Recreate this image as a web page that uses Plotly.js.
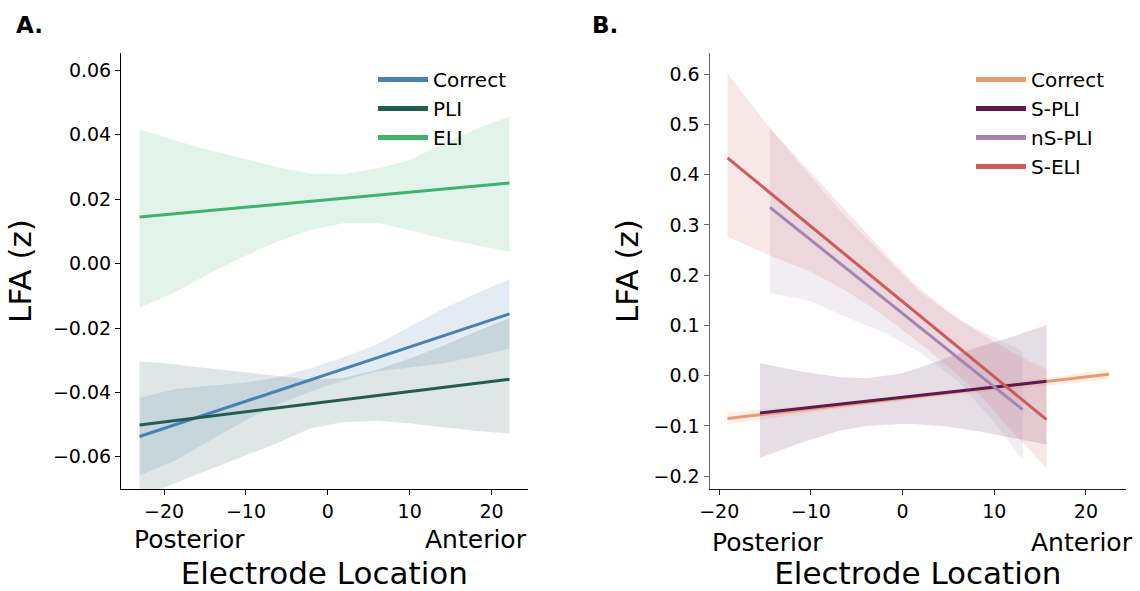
<!DOCTYPE html>
<html><head><meta charset="utf-8">
<script src="https://cdn.plot.ly/plotly-3.0.1.min.js"></script>
<style>html,body{margin:0;padding:0;background:#fff}#chart{width:1140px;height:591px}</style>
</head><body><div id="chart"></div>
<script>
// ---------- Panel A data ----------
const namesA = ['Correct', 'PLI', 'ELI'];
const colorsA = ['#4682b4', '#225e50', '#3cb371'];
const bandXA = [-23, -20.5, -18.5, -14.4, -10.3, -6.2, -2.2, 1.9, 6.0, 10.0, 14.1, 18.2, 22.2];
const correctUpperA = [-0.0417, -0.0401, -0.0389, -0.0379, -0.0370, -0.0354, -0.0326, -0.0291, -0.0251, -0.0196, -0.0140, -0.0092, -0.0048];
const correctLowerA = [-0.0657, -0.0632, -0.0609, -0.0549, -0.0490, -0.0438, -0.0398, -0.0363, -0.0335, -0.0322, -0.0310, -0.0288, -0.0264];
const pliUpperA = [-0.0304, -0.0308, -0.0314, -0.0326, -0.0338, -0.0350, -0.0360, -0.0355, -0.0330, -0.0295, -0.0255, -0.0210, -0.0170];
const pliLowerA = [-0.0715, -0.0700, -0.0680, -0.0640, -0.0598, -0.0558, -0.0512, -0.0492, -0.0488, -0.0496, -0.0508, -0.0520, -0.0528];
const eliUpperA = [0.0416, 0.0398, 0.0381, 0.0352, 0.0326, 0.0300, 0.0280, 0.0278, 0.0295, 0.0321, 0.0373, 0.0419, 0.0457];
const eliLowerA = [-0.0137, -0.0110, -0.0087, -0.0030, 0.0021, 0.0068, 0.0104, 0.0125, 0.0127, 0.0104, 0.0078, 0.0057, 0.0037];
const lineXA = [-23, 22.2];
const correctLineA = [-0.0537, -0.0156];
const pliLineA = [-0.0501, -0.0359];
const eliLineA = [0.0145, 0.0250];

// ---------- Panel B data ----------
const namesB = ['Correct', 'S-PLI', 'nS-PLI', 'S-ELI'];
const colorsB = ['#e99c6e', '#5c1a50', '#a484b0', '#cd5b5b'];
const correctBandXB = [-19.1, -10, 0, 10, 22.5];
const correctUpperB = [-0.073, -0.059, -0.040, -0.018, 0.013];
const correctLowerB = [-0.097, -0.073, -0.050, -0.030, -0.008];
const spliBandXB = [-15.55, -11.2, -6.8, -3.9, -0.3, 1.2, 4.8, 8.4, 12.1, 15.7];
const spliUpperB = [0.025, 0.009, -0.003, -0.005, 0.004, 0.012, 0.035, 0.058, 0.078, 0.101];
const spliLowerB = [-0.164, -0.134, -0.109, -0.100, -0.096, -0.096, -0.101, -0.111, -0.124, -0.137];
const nspliBandXB = [-14.46, -10, -6, -2, 2, 6, 9.8, 13.1];
const nspliUpperB = [0.493, 0.395, 0.312, 0.238, 0.165, 0.112, 0.078, 0.048];
const nspliLowerB = [0.165, 0.148, 0.115, 0.086, 0.045, -0.010, -0.088, -0.167];
const seliBandXB = [-19.1, -14.5, -10, -6, -2.5, 1.2, 4.8, 8.4, 12.1, 15.7];
const seliUpperB = [0.601, 0.493, 0.404, 0.324, 0.255, 0.184, 0.131, 0.085, 0.045, 0.012];
const seliLowerB = [0.277, 0.239, 0.207, 0.167, 0.125, 0.074, 0.021, -0.038, -0.114, -0.184];
const correctLineXB = [-19.1, 22.5], correctLineB = [-0.085, 0.0026];
const spliLineXB = [-15.55, 15.7], spliLineB = [-0.0743, -0.0113];
const nspliLineXB = [-14.46, 13.1], nspliLineB = [0.335, -0.0677];
const seliLineXB = [-19.1, 15.7], seliLineB = [0.4332, -0.0876];

const xTicks = [-20, -10, 0, 10, 20];
const yTicksA = [-0.06, -0.04, -0.02, 0.00, 0.02, 0.04, 0.06];
const yTicksB = [-0.2, -0.1, 0.0, 0.1, 0.2, 0.3, 0.4, 0.5, 0.6];

function rgba(hex, a) {
  const n = parseInt(hex.slice(1), 16);
  return 'rgba(' + ((n >> 16) & 255) + ',' + ((n >> 8) & 255) + ',' + (n & 255) + ',' + a + ')';
}
function band(x, up, lo, color, xa, ya) {
  return {x: x.concat(x.slice().reverse()), y: up.concat(lo.slice().reverse()),
    mode: 'lines', fill: 'toself', fillcolor: rgba(color, 0.15), line: {width: 0},
    hoverinfo: 'skip', showlegend: false, xaxis: xa, yaxis: ya};
}
function line(x, y, color, xa, ya) {
  return {x: x, y: y, mode: 'lines', line: {color: color, width: 3}, showlegend: false, xaxis: xa, yaxis: ya};
}
function legendItem(name, color, xa, ya, leg) {
  return {x: [null], y: [null], mode: 'lines', name: name, line: {color: color, width: 5},
    showlegend: true, legend: leg, legendgroup: leg + name, xaxis: xa, yaxis: ya};
}

const traces = [
  band(bandXA, correctUpperA, correctLowerA, colorsA[0], 'x', 'y'),
  band(bandXA, pliUpperA, pliLowerA, colorsA[1], 'x', 'y'),
  band(bandXA, eliUpperA, eliLowerA, colorsA[2], 'x', 'y'),
  line(lineXA, correctLineA, colorsA[0], 'x', 'y'),
  line(lineXA, pliLineA, colorsA[1], 'x', 'y'),
  line(lineXA, eliLineA, colorsA[2], 'x', 'y'),
  band(correctBandXB, correctUpperB, correctLowerB, colorsB[0], 'x2', 'y2'),
  band(spliBandXB, spliUpperB, spliLowerB, colorsB[1], 'x2', 'y2'),
  band(nspliBandXB, nspliUpperB, nspliLowerB, colorsB[2], 'x2', 'y2'),
  band(seliBandXB, seliUpperB, seliLowerB, colorsB[3], 'x2', 'y2'),
  line(correctLineXB, correctLineB, colorsB[0], 'x2', 'y2'),
  line(spliLineXB, spliLineB, colorsB[1], 'x2', 'y2'),
  line(nspliLineXB, nspliLineB, colorsB[2], 'x2', 'y2'),
  line(seliLineXB, seliLineB, colorsB[3], 'x2', 'y2')
];
namesA.forEach((n, i) => traces.push(legendItem(n, colorsA[i], 'x', 'y', 'legend')));
namesB.forEach((n, i) => traces.push(legendItem(n, colorsB[i], 'x2', 'y2', 'legend2')));

const W = 1140, H = 591;
const axBase = {showgrid: false, zeroline: false, showline: true, linewidth: 1, ticks: 'outside',
  ticklen: 5, tickwidth: 1, tickfont: {size: 19, color: '#000'}};
const yDom = [1 - 489 / H, 1 - 53 / H];

const layout = {
  width: W, height: H, margin: {l: 0, r: 0, t: 0, b: 0},
  paper_bgcolor: '#fff', plot_bgcolor: '#fff',
  font: {family: 'DejaVu Sans, sans-serif', color: '#000'},
  xaxis: Object.assign({}, axBase, {domain: [121 / W, 527.6 / W], range: [-25.27, 24.41], tickvals: xTicks,
    linecolor: '#000', tickcolor: '#000', anchor: 'y',
    title: {text: 'Electrode Location', font: {size: 31}, standoff: 44}}),
  yaxis: Object.assign({}, axBase, {domain: yDom, range: [-0.07, 0.0654], tickvals: yTicksA, tickformat: '.2f',
    linecolor: '#000', tickcolor: '#000', anchor: 'x',
    title: {text: 'LFA (z)', font: {size: 31}, standoff: 12}}),
  xaxis2: Object.assign({}, axBase, {domain: [709.5 / W, 1126.3 / W], range: [-21.06, 24.4], tickvals: xTicks,
    linecolor: '#222', tickcolor: '#222', anchor: 'y2',
    title: {text: 'Electrode Location', font: {size: 31}, standoff: 44}}),
  yaxis2: Object.assign({}, axBase, {domain: yDom, range: [-0.2255, 0.642], tickvals: yTicksB, tickformat: '.1f',
    linecolor: '#666', tickcolor: '#666', anchor: 'x2',
    title: {text: 'LFA (z)', font: {size: 31}, standoff: 5}}),
  legend: {x: 373 / W, y: 1 - 60 / H, xanchor: 'left', yanchor: 'top', bgcolor: 'rgba(0,0,0,0)',
    font: {size: 20}, tracegroupgap: 0, traceorder: 'grouped', itemwidth: 50},
  legend2: {x: 971 / W, y: 1 - 60 / H, xanchor: 'left', yanchor: 'top', bgcolor: 'rgba(0,0,0,0)',
    font: {size: 20}, tracegroupgap: 0, traceorder: 'grouped', itemwidth: 50},
  annotations: [
    {text: '<b>A.</b>', xref: 'paper', yref: 'paper', x: 14 / W, y: 1 - 25 / H, xanchor: 'left', yanchor: 'middle', showarrow: false, font: {size: 23}},
    {text: '<b>B.</b>', xref: 'paper', yref: 'paper', x: 590 / W, y: 1 - 25 / H, xanchor: 'left', yanchor: 'middle', showarrow: false, font: {size: 23}},
    {text: 'Posterior', xref: 'paper', yref: 'paper', x: 132 / W, y: 1 - 539 / H, xanchor: 'left', yanchor: 'middle', showarrow: false, font: {size: 25}},
    {text: 'Anterior', xref: 'paper', yref: 'paper', x: 529 / W, y: 1 - 539 / H, xanchor: 'right', yanchor: 'middle', showarrow: false, font: {size: 25}},
    {text: 'Posterior', xref: 'paper', yref: 'paper', x: 710 / W, y: 1 - 542 / H, xanchor: 'left', yanchor: 'middle', showarrow: false, font: {size: 25}},
    {text: 'Anterior', xref: 'paper', yref: 'paper', x: 1135 / W, y: 1 - 542 / H, xanchor: 'right', yanchor: 'middle', showarrow: false, font: {size: 25}}
  ]
};

Plotly.newPlot('chart', traces, layout, {displayModeBar: false, staticPlot: true});
</script></body></html>
